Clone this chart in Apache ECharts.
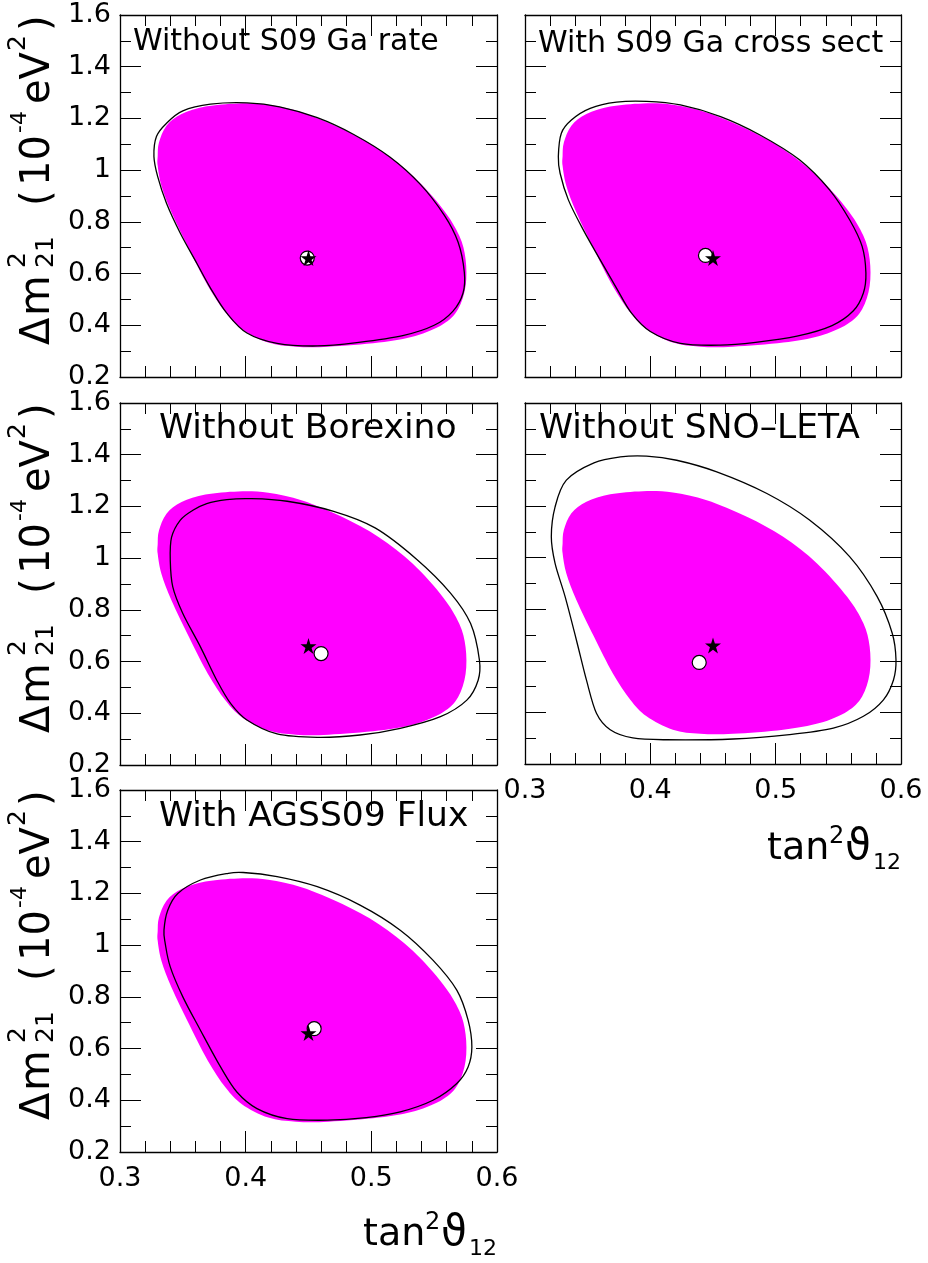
<!DOCTYPE html>
<html>
<head>
<meta charset="utf-8">
<title>Solar neutrino oscillation fits</title>
<script src="https://cdn.jsdelivr.net/npm/echarts@6/dist/echarts.min.js"></script>
<style>
  html, body { margin: 0; padding: 0; background: #fff; }
  #chart { width: 928px; height: 1263px; }
</style>
</head>
<body>
<div id="chart"></div>
<script>
// Axis ticks
const xTicks = [0.3, 0.4, 0.5, 0.6];
const yTicks = [0.2, 0.4, 0.6, 0.8, 1.0, 1.2, 1.4, 1.6];

// Panel headings
const panelTitles = [
  'Without S09 Ga rate',
  'With S09 Ga cross sect',
  'Without Borexino',
  'Without SNO\u2013LETA',
  'With AGSS09 Flux'
];

// Allowed region of the full analysis (tan^2 theta12, dm^2_21 in 1e-4 eV^2)
const combinedRegion = [
  [0.330, 1.055], [0.331, 1.107], [0.337, 1.172], [0.349, 1.217], [0.368, 1.246],
  [0.394, 1.258], [0.418, 1.253], [0.445, 1.223], [0.477, 1.159], [0.506, 1.081],
  [0.533, 0.978], [0.557, 0.849], [0.570, 0.746], [0.575, 0.655], [0.575, 0.552],
  [0.569, 0.462], [0.557, 0.404], [0.535, 0.359], [0.506, 0.333], [0.466, 0.317],
  [0.440, 0.317], [0.418, 0.333], [0.397, 0.385], [0.384, 0.449], [0.370, 0.552],
  [0.355, 0.694], [0.341, 0.836], [0.333, 0.939], [0.330, 1.017]
];

// Alternative analyses, one contour per panel
const contourNoGaRate = [
  [0.327, 1.053], [0.329, 1.130], [0.337, 1.181], [0.350, 1.229], [0.372, 1.255],
  [0.401, 1.260], [0.427, 1.245], [0.457, 1.203], [0.486, 1.138], [0.515, 1.050],
  [0.539, 0.945], [0.558, 0.826], [0.569, 0.722], [0.574, 0.605], [0.573, 0.525],
  [0.565, 0.455], [0.550, 0.400], [0.525, 0.360], [0.490, 0.334], [0.457, 0.320],
  [0.425, 0.330], [0.401, 0.370], [0.385, 0.447], [0.372, 0.544], [0.361, 0.641],
  [0.348, 0.756], [0.337, 0.872], [0.330, 0.975]
];
const contourGaCrossSection = [
  [0.3266, 1.053], [0.329, 1.143], [0.337, 1.194], [0.352, 1.239], [0.373, 1.263],
  [0.397, 1.266], [0.424, 1.252], [0.456, 1.207], [0.4875, 1.136], [0.519, 1.040],
  [0.543, 0.924], [0.559, 0.808], [0.569, 0.705], [0.572, 0.602], [0.570, 0.525],
  [0.562, 0.456], [0.545, 0.399], [0.517, 0.358], [0.484, 0.334], [0.4556, 0.323],
  [0.424, 0.330], [0.400, 0.376], [0.385, 0.447], [0.373, 0.544], [0.360, 0.653],
  [0.3465, 0.769], [0.3346, 0.885], [0.328, 0.988]
];
const contourNoBorexino = [
  [0.340, 0.992], [0.341, 1.080], [0.348, 1.147], [0.358, 1.185], [0.369, 1.211],
  [0.385, 1.226], [0.403, 1.230], [0.433, 1.220], [0.470, 1.181], [0.503, 1.117],
  [0.536, 0.996], [0.563, 0.865], [0.579, 0.747], [0.586, 0.606], [0.585, 0.528],
  [0.576, 0.451], [0.555, 0.387], [0.523, 0.342], [0.491, 0.316], [0.457, 0.307],
  [0.425, 0.320], [0.401, 0.374], [0.388, 0.438], [0.377, 0.528], [0.364, 0.657],
  [0.350, 0.786], [0.342, 0.889]
];
const contourNoSnoLeta = [
  [0.321, 1.081], [0.324, 1.197], [0.333, 1.301], [0.355, 1.368], [0.376, 1.391],
  [0.397, 1.394], [0.421, 1.378], [0.453, 1.333], [0.493, 1.249], [0.527, 1.146],
  [0.559, 1.004], [0.581, 0.849], [0.593, 0.707], [0.596, 0.604], [0.594, 0.526],
  [0.586, 0.449], [0.570, 0.385], [0.546, 0.339], [0.511, 0.314], [0.466, 0.297],
  [0.413, 0.294], [0.386, 0.301], [0.368, 0.333], [0.357, 0.397], [0.349, 0.526],
  [0.341, 0.681], [0.332, 0.849], [0.324, 0.978]
];
const contourAgss09 = [
  [0.335, 1.058], [0.338, 1.135], [0.346, 1.200], [0.364, 1.252], [0.385, 1.277],
  [0.398, 1.281], [0.425, 1.265], [0.457, 1.226], [0.491, 1.155], [0.523, 1.058],
  [0.549, 0.942], [0.568, 0.826], [0.577, 0.710], [0.580, 0.606], [0.577, 0.529],
  [0.568, 0.465], [0.549, 0.400], [0.523, 0.355], [0.496, 0.333], [0.465, 0.323],
  [0.433, 0.329], [0.409, 0.368], [0.393, 0.432], [0.380, 0.529], [0.364, 0.671],
  [0.350, 0.800], [0.340, 0.916], [0.336, 1.006]
];
const panelContours = [contourNoGaRate, contourGaCrossSection, contourNoBorexino, contourNoSnoLeta, contourAgss09];

// Best-fit points: full analysis (star) and each alternative (open circle)
const combinedBestFit = [0.45, 0.66];
const panelBestFits = [[0.449, 0.660], [0.444, 0.670], [0.460, 0.631], [0.439, 0.594], [0.4545, 0.677]];

// ---------------------------------------------------------------------------
const FONT = '"DejaVu Sans", sans-serif';
const grids = [
  { left: 120, top: 15,  width: 377, height: 362 },
  { left: 525, top: 15,  width: 376, height: 362 },
  { left: 120, top: 403, width: 377, height: 362 },
  { left: 525, top: 403, width: 376, height: 361 },
  { left: 120, top: 790, width: 377, height: 362 }
];
const showXLabels = [false, false, false, true, true];
const showYLabels = [true, false, true, false, true];
const N = grids.length;

const axisLine = { show: true, onZero: false, lineStyle: { color: '#000', width: 1.3 } };
const tickStyle = { color: '#000', width: 1 };

function xAxisFor(i, position, labels) {
  return {
    gridIndex: i, type: 'value', position: position,
    min: xTicks[0], max: xTicks[xTicks.length - 1], interval: 0.1,
    axisLine: axisLine,
    axisTick: { show: true, inside: true, length: 21, lineStyle: tickStyle },
    minorTick: { show: true, splitNumber: 5, length: 11, lineStyle: tickStyle },
    splitLine: { show: false }, minorSplitLine: { show: false },
    axisLabel: {
      show: labels, margin: 13, color: '#000', fontFamily: FONT, fontSize: 27,
      showMinLabel: true, showMaxLabel: true
    }
  };
}
function yAxisFor(i, position, labels) {
  return {
    gridIndex: i, type: 'value', position: position,
    min: yTicks[0], max: yTicks[yTicks.length - 1], interval: 0.2,
    axisLine: axisLine,
    axisTick: { show: true, inside: true, length: 21, lineStyle: tickStyle },
    minorTick: { show: true, splitNumber: 2, length: 11, lineStyle: tickStyle },
    splitLine: { show: false }, minorSplitLine: { show: false },
    axisLabel: {
      show: labels, margin: 9, color: '#000', fontFamily: FONT, fontSize: 27,
      showMinLabel: true, showMaxLabel: true,
      formatter: v => String(Math.round(v * 10) / 10)
    }
  };
}

const xAxes = [], yAxes = [];
for (let i = 0; i < N; i++) { xAxes.push(xAxisFor(i, 'bottom', showXLabels[i])); yAxes.push(yAxisFor(i, 'left', showYLabels[i])); }
for (let i = 0; i < N; i++) { xAxes.push(xAxisFor(i, 'top', false)); yAxes.push(yAxisFor(i, 'right', false)); }

// Closed Catmull-Rom curve through projected points, as SVG path data
function closedCurvePath(pts) {
  const n = pts.length;
  let d = 'M' + pts[0][0] + ',' + pts[0][1];
  for (let k = 0; k < n; k++) {
    const p0 = pts[(k - 1 + n) % n], p1 = pts[k], p2 = pts[(k + 1) % n], p3 = pts[(k + 2) % n];
    const c1x = p1[0] + (p2[0] - p0[0]) / 6, c1y = p1[1] + (p2[1] - p0[1]) / 6;
    const c2x = p2[0] - (p3[0] - p1[0]) / 6, c2y = p2[1] - (p3[1] - p1[1]) / 6;
    d += ' C' + c1x + ',' + c1y + ' ' + c2x + ',' + c2y + ' ' + p2[0] + ',' + p2[1];
  }
  return d + ' Z';
}

// Closed smooth region drawn through the axis scales
function regionSeries(i, points, style) {
  return {
    type: 'custom', xAxisIndex: i, yAxisIndex: i, silent: true,
    data: points,
    encode: { x: 0, y: 1 },
    renderItem: function (params, api) {
      if (params.dataIndex !== 0) return;
      const pts = points.map(p => api.coord(p));
      return { type: 'path', shape: { pathData: closedCurvePath(pts) }, style: style };
    }
  };
}

const STAR = 'path://M50,2 L61.2,36.4 L97.6,36.4 L68.2,57.8 L79.4,92.2 L50,71 L20.6,92.2 L31.8,57.8 L2.4,36.4 L38.8,36.4 Z';

const series = [];
for (let i = 0; i < N; i++) {
  series.push(regionSeries(i, combinedRegion, { fill: '#ff00ff', stroke: null }));
  series.push(regionSeries(i, panelContours[i], { fill: null, stroke: '#000', lineWidth: 1.3 }));
  series.push({
    type: 'scatter', xAxisIndex: i, yAxisIndex: i, silent: true,
    data: [panelBestFits[i]], symbol: 'circle', symbolSize: 14,
    itemStyle: { color: '#ffffff', opacity: 1, borderColor: '#000', borderWidth: 1.2 }
  });
  series.push({
    type: 'scatter', xAxisIndex: i, yAxisIndex: i, silent: true,
    data: [combinedBestFit], symbol: STAR, symbolSize: 16,
    itemStyle: { color: '#000', opacity: 1 }
  });
}

// Text helpers (baseline-based placement)
function txt(x, baseY, s, size) {
  return {
    type: 'text', x: x, y: baseY - 0.3 * size, silent: true,
    style: { text: s, font: size + 'px ' + FONT, fill: '#000', align: 'left', verticalAlign: 'middle' }
  };
}

// Vertical axis title: Δm²₂₁ (10⁻⁴ eV²), reading bottom to top
function yTitle(baseX, startY) {
  return {
    type: 'group', x: baseX, y: startY, rotation: Math.PI / 2, silent: true,
    children: [
      txt(0, 0, '\u0394', 40),
      txt(29, 0, 'm', 42),
      txt(77, -25, '2', 25),
      txt(77, 3, '21', 25),
      txt(139, 0, '(', 40),
      txt(159, 0, '10', 40),
      txt(212, -24, '-4', 22),
      txt(241, 0, 'eV', 40),
      txt(294, -25, '2', 25),
      txt(314, 0, ')', 40)
    ]
  };
}

// Horizontal axis title: tan²ϑ₁₂, right-aligned to a panel
function xTitle(rightX, baseY) {
  const x0 = rightX - 134;
  return {
    type: 'group', silent: true,
    children: [
      txt(x0, baseY, 'tan', 38),
      txt(x0 + 62, baseY - 17, '2', 24),
      txt(x0 + 78, baseY, '\u03D1', 42),
      txt(x0 + 106, baseY + 9, '12', 22)
    ]
  };
}

const titlePos = [[133, 42.5], [538, 44], [159, 429.5], [539, 429.5], [159, 817]];
const titleSize = [30, 30, 34.5, 34.5, 34.5];
const graphics = [];
for (let i = 0; i < N; i++) {
  graphics.push({
    type: 'text', x: titlePos[i][0], y: titlePos[i][1], silent: true,
    style: { text: panelTitles[i], font: titleSize[i] + 'px ' + FONT, fill: '#000', align: 'left', verticalAlign: 'middle' }
  });
}
[0, 2, 4].forEach(i => graphics.push(yTitle(51, grids[i].top + grids[i].height - 32)));
graphics.push(xTitle(901, 861));
graphics.push(xTitle(497, 1247));

const chart = echarts.init(document.getElementById('chart'), null, { renderer: 'canvas' });
chart.setOption({
  animation: false,
  backgroundColor: '#fff',
  grid: grids.map(g => Object.assign({ containLabel: false }, g)),
  xAxis: xAxes,
  yAxis: yAxes,
  series: series,
  graphic: graphics
});
</script>
</body>
</html>
